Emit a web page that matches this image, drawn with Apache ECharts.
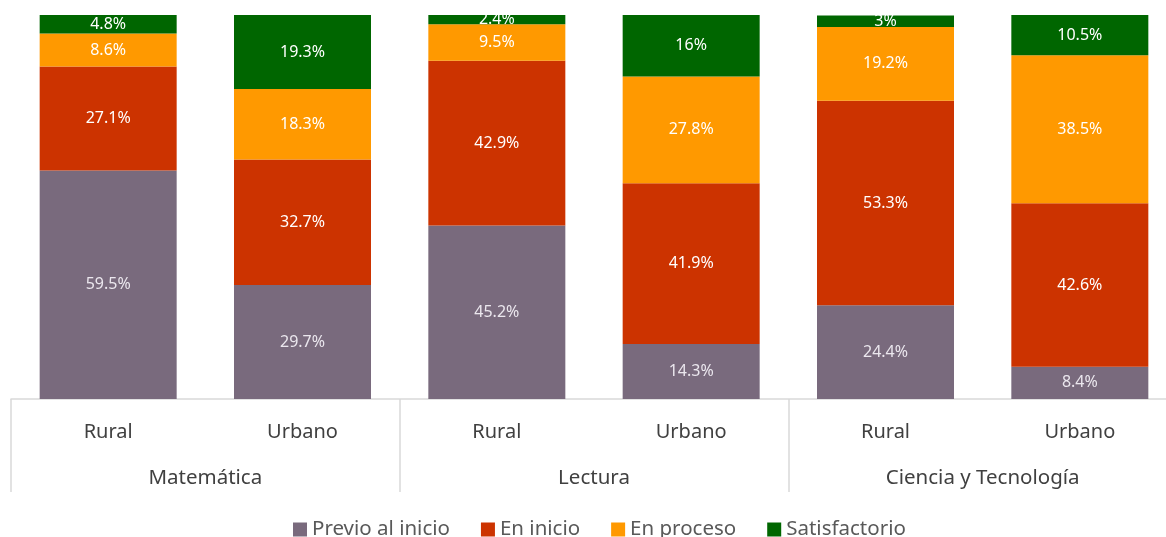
<!DOCTYPE html>
<html>
<head>
<meta charset="utf-8">
<script src="https://cdn.jsdelivr.net/npm/echarts@6/dist/echarts.min.js"></script>
<style>
  html, body { margin: 0; padding: 0; background: #fff; }
  #chart { width: 1166px; height: 537px; }
</style>
</head>
<body>
<div id="chart"></div>
<script>
const zonas = ['Rural', 'Urbano', 'Rural', 'Urbano', 'Rural', 'Urbano']
const areas = ['Matemática', 'Lectura', 'Ciencia y Tecnología']

const previo = [59.5, 29.7, 45.2, 14.3, 24.4, 8.4]
const enInicio = [27.1, 32.7, 42.9, 41.9, 53.3, 42.6]
const enProceso = [8.6, 18.3, 9.5, 27.8, 19.2, 38.5]
const satisfactorio = [4.8, 19.3, 2.4, 16, 3, 10.5]

const fontFamily = '"Noto Sans", sans-serif'

const makeSeries = (name, data, color, labelColor) => ({
  name,
  type: 'bar',
  stack: 'total',
  data,
  barWidth: 137,
  itemStyle: { color },
  label: {
    show: true,
    position: 'inside',
    color: labelColor,
    fontSize: 16,
    fontFamily,
    formatter: p => p.value + '%'
  }
})

const chart = echarts.init(document.getElementById('chart'))

chart.setOption({
  animation: false,
  grid: { left: 11, top: 15, width: 1166, bottom: 138, outerBoundsMode: 'none', containLabel: false },
  legend: {
    bottom: -8,
    left: 288,
    itemWidth: 14,
    itemHeight: 14,
    itemGap: 31,
    icon: 'rect',
    textStyle: { fontSize: 20.5, color: '#595959', fontFamily }
  },
  xAxis: [
    {
      type: 'category',
      data: zonas,
      axisLine: { lineStyle: { color: '#d9d9d9', width: 1.5 } },
      axisTick: { show: false },
      axisLabel: { margin: 23, fontSize: 20, color: '#404040', fontFamily, interval: 0 }
    },
    {
      type: 'category',
      data: areas,
      position: 'bottom',
      axisLine: { show: false },
      axisTick: { show: true, length: 93, lineStyle: { color: '#d9d9d9', width: 1.5 } },
      axisLabel: { margin: 69, fontSize: 20.5, color: '#404040', fontFamily }
    }
  ],
  yAxis: {
    type: 'value',
    min: 0,
    max: 100,
    show: false
  },
  series: [
    makeSeries('Previo al inicio', previo, '#796a7d', '#ebe7ee'),
    makeSeries('En inicio', enInicio, '#cc3300', '#fff'),
    makeSeries('En proceso', enProceso, '#ff9900', '#fff'),
    makeSeries('Satisfactorio', satisfactorio, '#006600', '#fff')
  ]
})
</script>
</body>
</html>
